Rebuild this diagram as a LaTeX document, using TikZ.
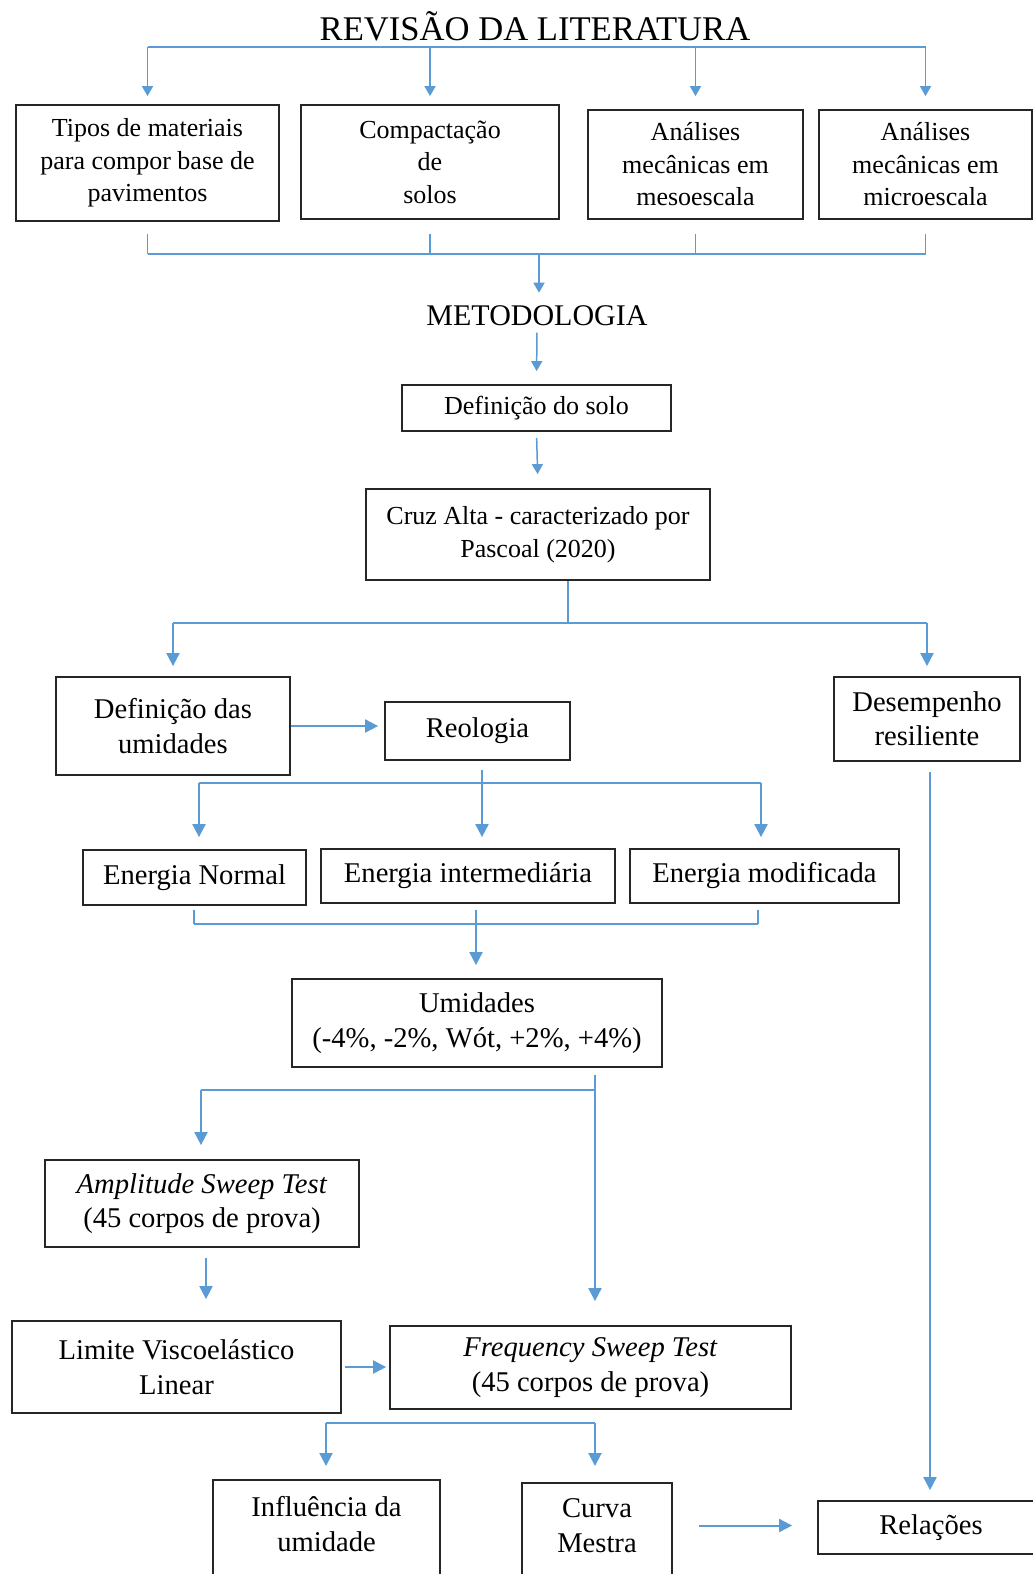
\documentclass[tikz,border=0pt]{standalone}
\usepackage{fontspec}
\setmainfont{Liberation Serif}
\usetikzlibrary{arrows.meta}
\definecolor{lineblue}{RGB}{91,155,213}
\begin{document}
\begin{tikzpicture}[x=0.5pt,y=-0.5pt,
 box/.style={draw=black!85, line width=0.9pt, inner sep=0pt, align=center},
 fa/.style={font=\fontsize{13pt}{16.25pt}\selectfont},
 fb/.style={font=\fontsize{14.3pt}{17.2pt}\selectfont},
 conn/.style={draw=lineblue, line width=0.75pt},
 arr/.style={conn, -{Triangle[width=5.5pt,length=5pt]}},
 connb/.style={draw=lineblue, line width=1pt},
 arrb/.style={connb, -{Triangle[width=6.5pt,length=6.5pt]}},
]
\clip (0,0) rectangle (1033,1574);
\fill[white] (0,0) rectangle (1033,1574);

% nodes
\node[anchor=base, font=\fontsize{17.3pt}{20pt}\selectfont, inner sep=0pt] (title) at (535,40) {REVISÃO DA LITERATURA};
\node[box,fa,minimum width=131.5pt,minimum height=58pt] (t1) at (147.5,163) {Tipos de materiais\\para compor base de\\pavimentos};
\node[box,fa,minimum width=129pt,minimum height=57pt] (t2) at (430,162) {Compactação\\de\\solos};
\node[box,fa,minimum width=107.5pt,minimum height=54.5pt] (t3) at (695.5,164.5) {Análises\\mecânicas em\\mesoescala};
\node[box,fa,minimum width=106.5pt,minimum height=54.5pt] (t4) at (925.5,164.5) {Análises\\mecânicas em\\microescala};

\node[anchor=base, font=\fontsize{15pt}{18pt}\selectfont, inner sep=0pt] (meto) at (537,325) {METODOLOGIA};
\node[box,fa,minimum width=134.5pt,minimum height=23pt] (ds) at (536.5,408) {Definição do solo};
\node[box,fa,minimum width=172pt,minimum height=45.5pt] (cruz) at (538,534.5) {Cruz Alta - caracterizado por\\Pascoal (2020)};
\node[box,fb,minimum width=117pt,minimum height=49pt] (du) at (173,726) {Definição das\\umidades};
\node[box,fb,minimum width=92.5pt,minimum height=29pt] (reo) at (477.5,731) {Reologia};
\node[box,fb,minimum width=93pt,minimum height=42pt] (de) at (927,719) {Desempenho\\resiliente};
\node[box,fb,minimum width=111.5pt,minimum height=27.5pt] (en) at (194.5,877.5) {Energia Normal};
\node[box,fb,minimum width=147pt,minimum height=27pt] (ei) at (468,876) {Energia intermediária};
\node[box,fb,minimum width=134.5pt,minimum height=27pt] (em) at (764.5,876) {Energia modificada};
\node[box,fb,minimum width=185pt,minimum height=44pt] (um) at (477,1023) {Umidades\\(-4\%, -2\%, Wót, +2\%, +4\%)};
\node[box,fb,minimum width=157pt,minimum height=43.5pt] (am) at (202,1203.5) {\textit{Amplitude Sweep Test}\\(45 corpos de prova)};
\node[box,fb,minimum width=164.5pt,minimum height=46pt] (li) at (176.5,1367) {Limite Viscoelástico\\Linear};
\node[box,fb,minimum width=200.5pt,minimum height=41.5pt] (fr) at (590.5,1367.5) {\textit{Frequency Sweep Test}\\(45 corpos de prova)};
\node[box,anchor=north,minimum width=113.5pt,minimum height=60pt] (inf) at (326.5,1479) {};
\node[fb,align=center,inner sep=0pt] (inft) at (326.5,1524) {Influência da\\umidade};
\node[box,anchor=north,minimum width=75pt,minimum height=60pt] (cm) at (597,1482) {};
\node[fb,align=center,inner sep=0pt] (cmt) at (597,1525.5) {Curva\\Mestra};
\node[box,fb,minimum width=113pt,minimum height=26.5pt] (rel) at (931,1527.5) {Relações};

% top distribution
\coordinate (bT) at (535,47);
\draw[conn] (bT -| t1.north) -- (bT -| t4.north);
\draw[arr, shorten >=4pt] (bT -| t1.north) -- (t1.north);
\draw[arr, shorten >=4pt] (bT -| t2.north) -- (t2.north);
\draw[arr, shorten >=6.5pt] (bT -| t3.north) -- (t3.north);
\draw[arr, shorten >=6.5pt] (bT -| t4.north) -- (t4.north);

% top collector
\coordinate (bB) at (539,254);
\draw[conn, shorten <=6pt] (t1.south) -- (bB -| t1.south);
\draw[conn, shorten <=7pt] (t2.south) -- (bB -| t2.south);
\draw[conn, shorten <=7pt] (t3.south) -- (bB -| t3.south);
\draw[conn, shorten <=7pt] (t4.south) -- (bB -| t4.south);
\draw[conn] (bB -| t1.south) -- (bB -| t4.south);
\draw[arr, shorten >=6pt] (bB) -- (bB |- meto.north);

\draw[arr, shorten <=3.5pt, shorten >=6.5pt] (meto.south) -- (ds.north);
\draw[arr, shorten <=3pt, shorten >=7pt] (ds.south) -- (cruz.north);

% cruz split
\coordinate (bC) at (568,623);
\draw[connb] (bC |- cruz.south) -- (bC);
\draw[connb] (bC -| du.north) -- (bC -| de.north);
\draw[arrb, shorten >=5pt] (bC -| du.north) -- (du.north);
\draw[arrb, shorten >=5pt] (bC -| de.north) -- (de.north);

\draw[arrb, shorten >=3pt] (du.east) -- (du.east -| reo.west);

% reologia split
\coordinate (bR) at (482,783);
\coordinate (rL) at (199,783);
\coordinate (rR) at (761,783);
\draw[connb, shorten <=4.5pt] (bR |- reo.south) -- (bR);
\draw[connb] (rL) -- (rR);
\draw[arrb, shorten >=6pt] (rL) -- (rL |- en.north);
\draw[arrb, shorten >=5.5pt] (bR) -- (bR |- ei.north);
\draw[arrb, shorten >=5.5pt] (rR) -- (rR |- em.north);

% energy collector
\coordinate (eL) at (194,924);
\coordinate (eR) at (758,924);
\coordinate (eM) at (476,924);
\draw[connb, shorten <=2pt] (eL |- en.south) -- (eL);
\draw[connb, shorten <=3pt] (eR |- em.south) -- (eR);
\draw[connb] (eL) -- (eR);
\draw[arrb, shorten <=3pt, shorten >=6.5pt] (eM |- ei.south) -- (eM |- um.north);

% umidades split
\coordinate (uB) at (595,1090);
\coordinate (uL) at (201,1090);
\draw[arrb, shorten <=3.5pt, shorten >=12pt] (uB |- um.south) -- (uB |- fr.north);
\draw[connb] (uL) -- (uB);
\draw[arrb, shorten >=7pt] (uL) -- (uL |- am.north);

\draw[arrb, shorten <=5pt, shorten >=10.5pt] ([xshift=2pt]am.south) -- ([xshift=2pt]am.south |- li.north);
\draw[arrb, shorten <=1.5pt, shorten >=1.5pt] (li.east) -- (li.east -| fr.west);

% frequency split
\coordinate (fL) at (326,1423);
\coordinate (fR) at (595,1423);
\draw[connb] (fL) -- (fR);
\draw[arrb, shorten >=6.5pt] (fL) -- (fL |- inf.north);
\draw[arrb, shorten >=8pt] (fR) -- (fR |- cm.north);

\draw[arrb, shorten <=13pt, shorten >=12.5pt] (cmt.east -| cm.east) -- (cmt.east -| rel.west);

\draw[arrb, shorten <=5pt, shorten >=5pt] ([xshift=1.5pt]de.south) -- ([xshift=1.5pt]de.south |- rel.north);
\end{tikzpicture}
\end{document}
